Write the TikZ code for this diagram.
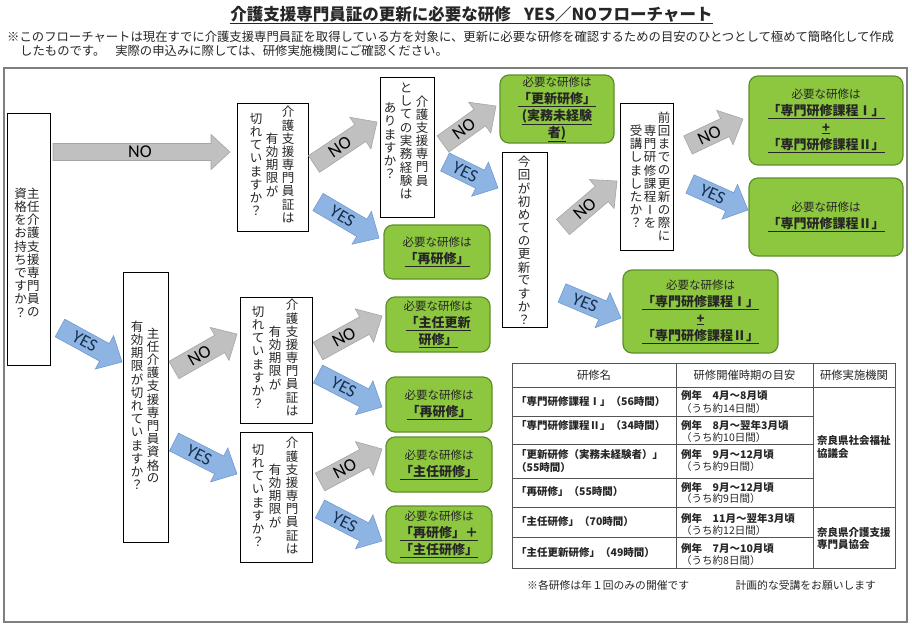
\documentclass[tikz,border=0pt]{standalone}
\usepackage{fontspec}
\setmainfont{Noto Sans CJK JP}
\newfontfamily\latinfont{Carlito}
\usetikzlibrary{calc}

\definecolor{gfill}{HTML}{8DC63F}
\definecolor{gdraw}{HTML}{5F8F2A}
\definecolor{nofill}{HTML}{C0C0C0}
\definecolor{nodraw}{HTML}{A6A6A6}
\definecolor{yesfill}{HTML}{8EB4E3}
\definecolor{yesdraw}{HTML}{6F9AD0}
\definecolor{txt}{HTML}{262626}
\definecolor{yestxt}{HTML}{17304F}
\definecolor{frame}{HTML}{7F7F7F}
\definecolor{tline}{HTML}{555555}

% vertical (tategaki) text helpers
\newdimen\vpitch \vpitch=13.2pt
\newdimen\vcolw \vcolw=12.5pt
\def\vstackA#1{\ifx\relax#1\else\hbox to\vcolw{\hss\vbox to\vpitch{\vss\hbox{#1}\vss}\hss}\expandafter\vstackA\fi}
\newcommand\vcolbox[1]{\vbox{\offinterlineskip\vstackA#1\relax}}
\newcommand\vc[1]{\ensuremath{\vcenter{\vcolbox{#1}}}}
\newcommand\bu[1]{{\bfseries\fontsize{13}{17}\selectfont\underline{#1}}}

% block arrow: style, x1,y1 (tail centre), x2,y2 (tip), label, name
\def\abw{10}\def\ahw{19}\def\ahl{20}\def\alo{3}
\newcommand\barrow[7]{%
  \pgfmathsetmacro\bAng{atan2(#3-#5,#4-#2)}%
  \pgfmathsetmacro\bLen{veclen(#4-#2,#5-#3)}%
  \pgfmathsetmacro\bNeck{\bLen-\ahl}%
  \pgfmathsetmacro\bLab{\bNeck/2+\alo}%
  \begin{scope}[shift={(#2,-#3)},rotate=\bAng]
    \draw[#1] (0,-\abw) -- (\bNeck,-\abw) -- (\bNeck,-\ahw) -- (\bLen,0) -- (\bNeck,\ahw) -- (\bNeck,\abw) -- (0,\abw) -- cycle;
    \node[#1lbl, rotate=\bAng] (#7) at (\bLab,0) {#6};
  \end{scope}}

\tikzset{
  qbox/.style={draw=black, line width=0.8pt, fill=white, inner sep=0pt},
  vq/.style={inner sep=0pt, text=txt, font=\fontsize{12.5}{13}\selectfont},
  gbox/.style={draw=gdraw, line width=1.2pt, fill=gfill, rounded corners=9pt, inner sep=0pt, align=center, text=txt, font=\fontsize{11.5}{17}\selectfont},
  noarr/.style={fill=nofill, draw=nodraw, line width=0.6pt},
  noarrlbl/.style={font=\latinfont\fontsize{18}{18}\selectfont, text=black, inner sep=0pt},
  yesarr/.style={fill=yesfill, draw=yesdraw, line width=0.6pt},
  yesarrlbl/.style={font=\latinfont\fontsize{18}{18}\selectfont, text=yestxt, inner sep=0pt},
  th/.style={inner sep=0pt, text=txt, font=\fontsize{11.3}{13}\selectfont},
  tb/.style={anchor=west, inner sep=0pt, text=txt, font=\bfseries\fontsize{10.5}{13}\selectfont},
  tn/.style={anchor=west, inner sep=0pt, text=txt, font=\fontsize{10.5}{13}\selectfont},
  tbl/.style={draw=tline, line width=0.8pt}
}

\begin{document}
\begin{tikzpicture}[x=1pt,y=1pt]
\fill[white] (0,0) rectangle (912,-632);
\useasboundingbox (0,0) rectangle (912,-632);

% title and note
\node[font=\bfseries\fontsize{16.5}{18}\selectfont, text=txt, inner sep=0pt] (title) at (471.5,-15)
  {\underline{介護支援専門員証の更新に必要な研修\hspace{0.8em}YES／NOフローチャート}};
\node[anchor=west, inner sep=0pt, text=txt, font=\fontsize{12.35}{14}\selectfont] (note1) at (7,-37)
  {※このフローチャートは現在すでに介護支援専門員証を取得している方を対象に、更新に必要な研修を確認するための目安のひとつとして極めて簡略化して作成};
\node[anchor=west, inner sep=0pt, text=txt, font=\fontsize{12.35}{14}\selectfont] (note2) at (20,-51)
  {したものです。\hspace{0.8em}実際の申込みに際しては、研修実施機関にご確認ください。};

% frame
\draw[draw=frame, line width=1.2pt] (4,-68) rectangle (907,-622);

% question boxes
\node[qbox, minimum width=43pt, minimum height=252pt] (A) at (28.5,-239) {};
\node[vq] (At) at (27,-253) {\vc{資格をお持ちですか？}\hspace{0.5pt}\vc{主任介護支援専門員の}};

\node[qbox, minimum width=71pt, minimum height=128pt] (B) at (272.5,-167) {};
\node[vq] (Bt) at (272,-165) {\vc{切れていますか？}\hspace{3.5pt}\vc{有効期限が}\hspace{3.5pt}\vc{介護支援専門員証は}};

\node[qbox, minimum width=54pt, minimum height=140pt] (C) at (407,-147) {};
\node[vq] (Ct) at (406,-141) {\vc{ありますか？}\hspace{3.5pt}\vc{としての実務経験は}\hspace{3.5pt}\vc{介護支援専門員}};

\node[qbox, minimum width=45pt, minimum height=175pt] (D) at (524.5,-239.5) {};
\node[vq] (Dt) at (524,-241) {\vc{今回が初めての更新ですか？}};

\node[qbox, minimum width=53pt, minimum height=147pt] (E) at (646.5,-176.5) {};
\node[vq] (Et) at (650,-177) {\vc{受講しましたか？}\hspace{1.5pt}\vc{専門研修課程Ⅰを}\hspace{1.5pt}\vc{前回までの更新の際に}};

\node[qbox, minimum width=45pt, minimum height=270pt] (F) at (145.5,-407) {};
\node[vq] (Ft) at (145,-406) {\vc{有効期限が切れていますか？}\hspace{3.5pt}\vc{主任介護支援専門員資格の}};

\node[qbox, minimum width=72pt, minimum height=126pt] (G) at (276,-360) {};
\node[vq] (Gt) at (275,-358) {\vc{切れていますか？}\hspace{4.5pt}\vc{有効期限が}\hspace{4.5pt}\vc{介護支援専門員証は}};

\node[qbox, minimum width=72pt, minimum height=130pt] (H) at (276,-497) {};
\node[vq] (Ht) at (275,-496) {\vc{切れていますか？}\hspace{4.5pt}\vc{有効期限が}\hspace{4.5pt}\vc{介護支援専門員証は}};

% result boxes
\node[gbox, minimum width=114pt, minimum height=68pt] (G1) at (557,-109) {必要な研修は\\\bu{「更新研修」}\\\bu{(実務未経験}\\\bu{者)}};
\node[gbox, minimum width=106pt, minimum height=54pt] (G2) at (437,-252) {必要な研修は\\\bu{「再研修」}};
\node[gbox, minimum width=154pt, minimum height=89pt] (G3) at (826,-120.5) {必要な研修は\\\bu{「専門研修課程Ⅰ」}\\\bu{+}\\\bu{「専門研修課程Ⅱ」}};
\node[gbox, minimum width=154pt, minimum height=78pt] (G4) at (826,-217) {必要な研修は\\\bu{「専門研修課程Ⅱ」}};
\node[gbox, minimum width=155pt, minimum height=83pt] (G5) at (700.5,-311.5) {必要な研修は\\\bu{「専門研修課程Ⅰ」}\\\bu{+}\\\bu{「専門研修課程Ⅱ」}};
\node[gbox, minimum width=104pt, minimum height=55pt] (G6) at (438,-324.5) {必要な研修は\\\bu{「主任更新}\\\bu{研修」}};
\node[gbox, minimum width=106pt, minimum height=55pt] (G7) at (439,-404.5) {必要な研修は\\\bu{「再研修」}};
\node[gbox, minimum width=106pt, minimum height=55pt] (G8) at (439,-464.5) {必要な研修は\\\bu{「主任研修」}};
\node[gbox, minimum width=106pt, minimum height=57pt] (G9) at (439,-534.5) {必要な研修は\\\bu{「再研修」＋}\\\bu{「主任研修」}};

% arrows
\begingroup
\def\abw{8.5}\def\ahw{17.5}\def\ahl{19}\def\alo{8}
\barrow{noarr}{53}{152}{230}{152}{NO}{aAB}
\endgroup
\barrow{yesarr}{60}{328}{122}{362}{YES}{aAF}
\barrow{noarr}{314}{164}{377}{122}{NO}{aBC}
\barrow{yesarr}{318}{202}{379}{238}{YES}{aBG2}
\barrow{noarr}{443}{144}{496}{106}{NO}{aCG1}
\barrow{yesarr}{445}{162}{498}{188}{YES}{aCD}
\barrow{noarr}{563}{227}{617}{181}{NO}{aDE}
\barrow{yesarr}{562}{293}{621}{318}{YES}{aDG5}
\barrow{noarr}{688}{145}{743}{119}{NO}{aEG3}
\barrow{yesarr}{690}{184}{748}{210}{YES}{aEG4}
\barrow{noarr}{174}{370}{237}{334}{NO}{aFG}
\barrow{yesarr}{174}{442}{237}{474}{YES}{aFH}
\barrow{noarr}{318}{351}{382}{316}{NO}{aGG6}
\barrow{yesarr}{318}{374}{382}{407}{YES}{aGG7}
\barrow{noarr}{320}{482}{382}{449}{NO}{aHG8}
\barrow{yesarr}{320}{509}{382}{541}{YES}{aHG9}

% table
\draw[tbl] (512,-363) rectangle (895,-568);
\draw[tbl] (676,-363) -- (676,-568);
\draw[tbl] (813,-363) -- (813,-568);
\draw[tbl] (512,-387) -- (895,-387);
\draw[tbl] (512,-507) -- (895,-507);
\foreach \yy in {416,444,478,537} \draw[tbl] (512,-\yy) -- (813,-\yy);

\node[th] (h1) at (594,-375) {研修名};
\node[th] (h2) at (744.5,-375) {研修開催時期の目安};
\node[th] (h3) at (854,-375) {研修実施機関};

\node[tb] (r1a) at (516,-401.5) {「専門研修課程Ⅰ」（56時間）};
\node[tb] (r1b) at (681,-395) {例年　4月～8月頃};
\node[tn] (r1c) at (681,-409) {（うち約14日間）};

\node[tb] (r2a) at (516,-426) {「専門研修課程Ⅱ」（34時間）};
\node[tb] (r2b) at (681,-425) {例年　8月～翌年3月頃};
\node[tn] (r2c) at (681,-438) {（うち約10日間）};

\node[tb] (r3a) at (516,-455) {「更新研修（実務未経験者）」};
\node[tb] (r3d) at (516,-468) {（55時間）};
\node[tb] (r3b) at (681,-454) {例年　9月～12月頃};
\node[tn] (r3c) at (681,-467) {（うち約9日間）};

\node[tb] (r4a) at (516,-492) {「再研修」（55時間）};
\node[tb] (r4b) at (681,-487) {例年　9月～12月頃};
\node[tn] (r4c) at (681,-499) {（うち約9日間）};

\node[tb] (r5a) at (516,-522) {「主任研修」（70時間）};
\node[tb] (r5b) at (681,-518) {例年　11月～翌年3月頃};
\node[tn] (r5c) at (681,-531) {（うち約12日間）};

\node[tb] (r6a) at (516,-553) {「主任更新研修」（49時間）};
\node[tb] (r6b) at (681,-548) {例年　7月～10月頃};
\node[tn] (r6c) at (681,-561) {（うち約8日間）};

\node[tb, align=left] (o1) at (817,-447.5) {奈良県社会福祉\\協議会};
\node[tb, align=left] (o2) at (817,-538.5) {奈良県介護支援\\専門員協会};

\node[anchor=west, inner sep=0pt, text=txt, font=\fontsize{10.8}{13}\selectfont] (foot) at (527,-585)
  {※各研修は年１回のみの開催です\hspace{4.3em}計画的な受講をお願いします};
\end{tikzpicture}
\end{document}
